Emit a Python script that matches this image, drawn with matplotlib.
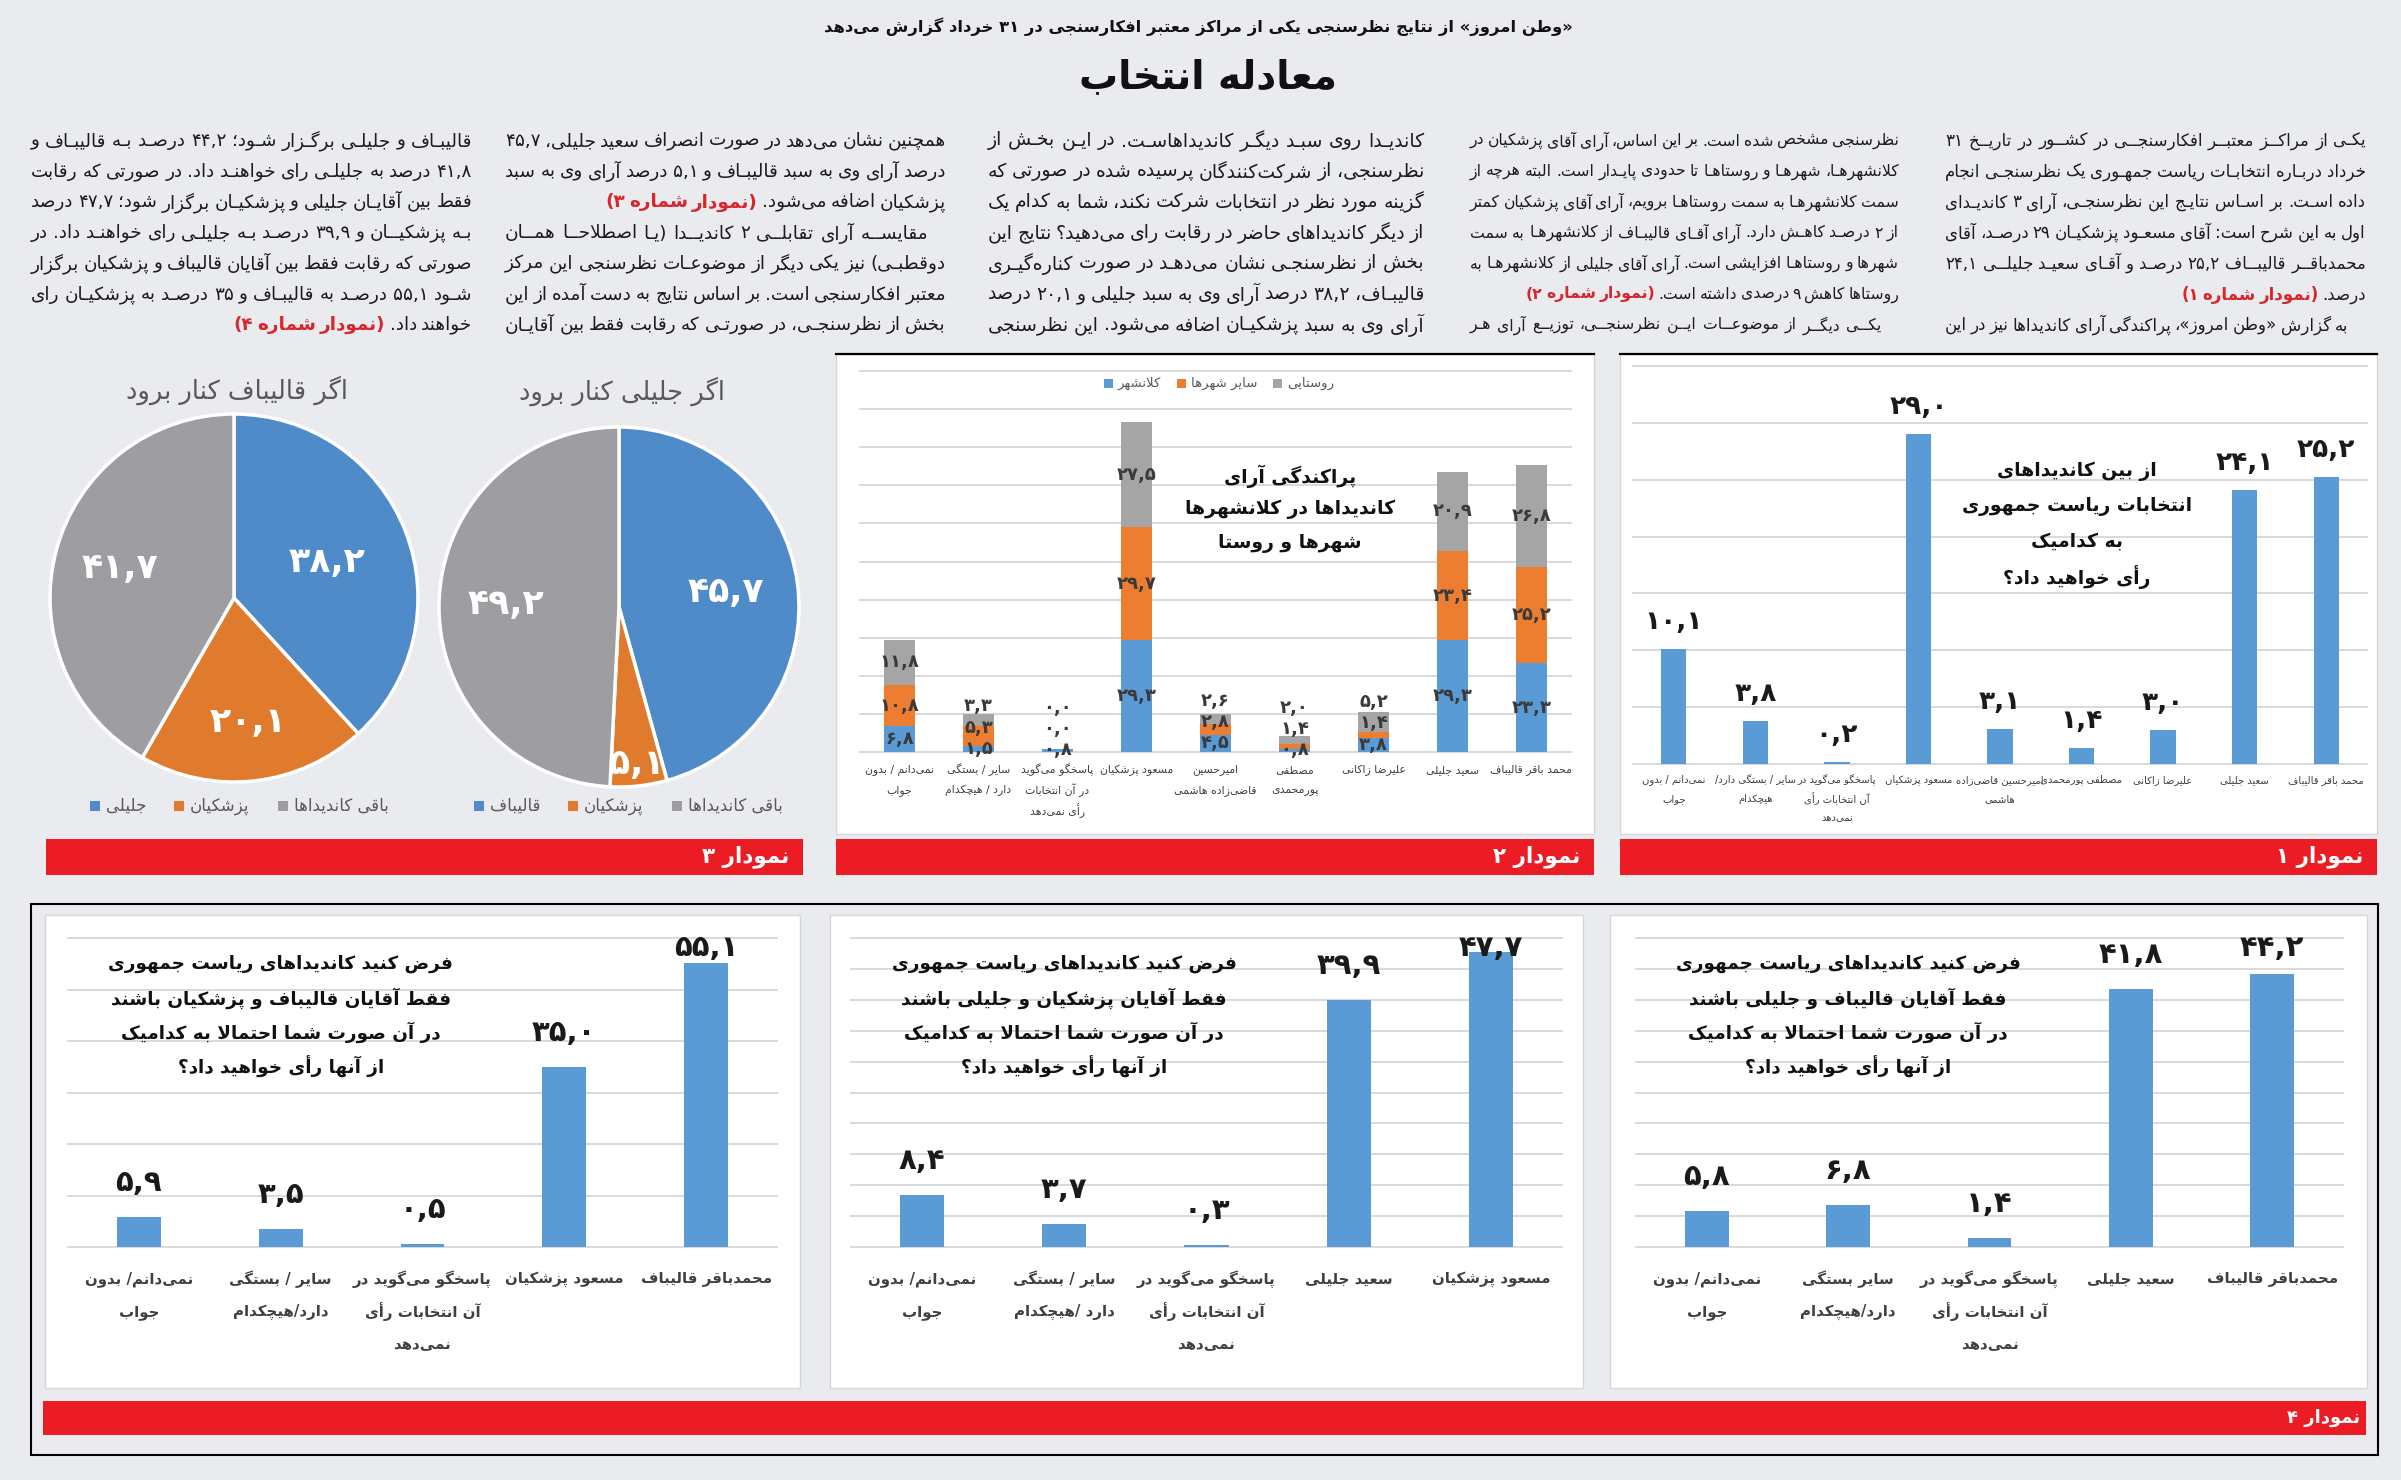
import matplotlib
matplotlib.use('Agg')
import matplotlib.pyplot as plt
import matplotlib.transforms as mtransforms
from matplotlib.patches import Rectangle
import numpy as np

plt.rcParams['font.family'] = ['DejaVu Sans']

# ---------------- data ----------------
subtitle = '«وطن امروز» از نتایج نظرسنجی یکی از مراکز معتبر افکارسنجی در ۳۱ خرداد گزارش می‌دهد'
title = 'معادله انتخاب'

col1 = [
    'یکی از مراکز معتبر افکارسنجی در کشور در تاریخ ۳۱',
    'خرداد درباره انتخابات ریاست جمهوری یک نظرسنجی انجام',
    'داده است. بر اساس نتایج این نظرسنجی، آرای ۳ کاندیدای',
    'اول به این شرح است: آقای مسعود پزشکیان ۲۹ درصد، آقای',
    'محمدباقر قالیباف ۲۵,۲ درصد و آقای سعید جلیلی ۲۴,۱',
    'درصد. (نمودار شماره ۱)',
    'به گزارش «وطن امروز»، پراکندگی آرای کاندیداها نیز در این',
]
col2 = [
    'نظرسنجی مشخص شده است. بر این اساس، آرای آقای پزشکیان در',
    'کلانشهرها، شهرها و روستاها تا حدودی پایدار است. البته هرچه از',
    'سمت کلانشهرها به سمت روستاها برویم، آرای آقای پزشکیان کمتر',
    'از ۲ درصد کاهش دارد. آرای آقای قالیباف از کلانشهرها به سمت',
    'شهرها و روستاها افزایشی است. آرای آقای جلیلی از کلانشهرها به',
    'روستاها کاهش ۹ درصدی داشته است. (نمودار شماره ۲)',
    'یکی دیگر از موضوعات این نظرسنجی، توزیع آرای هر',
]
col3 = [
    'کاندیدا روی سبد دیگر کاندیداهاست. در این بخش از',
    'نظرسنجی، از شرکت‌کنندگان پرسیده شده در صورتی که',
    'گزینه مورد نظر در انتخابات شرکت نکند، شما به کدام یک',
    'از دیگر کاندیداهای حاضر در رقابت رای می‌دهید؟ نتایج این',
    'بخش از نظرسنجی نشان می‌دهد در صورت کناره‌گیری',
    'قالیباف، ۳۸,۲ درصد آرای وی به سبد جلیلی و ۲۰,۱ درصد',
    'آرای وی به سبد پزشکیان اضافه می‌شود. این نظرسنجی',
]
col4 = [
    'همچنین نشان می‌دهد در صورت انصراف سعید جلیلی، ۴۵,۷',
    'درصد آرای وی به سبد قالیباف و ۵,۱ درصد آرای وی به سبد',
    'پزشکیان اضافه می‌شود. (نمودار شماره ۳)',
    'مقایسه آرای تقابلی ۲ کاندیدا (یا اصطلاحا همان',
    'دوقطبی) نیز یکی دیگر از موضوعات نظرسنجی این مرکز',
    'معتبر افکارسنجی است. بر اساس نتایج به دست آمده از این',
    'بخش از نظرسنجی، در صورتی که رقابت فقط بین آقایان',
]
col5 = [
    'قالیباف و جلیلی برگزار شود؛ ۴۴,۲ درصد به قالیباف و',
    '۴۱,۸ درصد به جلیلی رای خواهند داد. در صورتی که رقابت',
    'فقط بین آقایان جلیلی و پزشکیان برگزار شود؛ ۴۷,۷ درصد',
    'به پزشکیان و ۳۹,۹ درصد به جلیلی رای خواهند داد. در',
    'صورتی که رقابت فقط بین آقایان قالیباف و پزشکیان برگزار',
    'شود ۵۵,۱ درصد به قالیباف و ۳۵ درصد به پزشکیان رای',
    'خواهند داد. (نمودار شماره ۴)',
]

# chart 1
c1_title = 'از بین کاندیداهای\nانتخابات ریاست جمهوری\nبه کدامیک\nرأی خواهید داد؟'
c1_labels = ['نمی‌دانم / بدون\nجواب', 'سایر / بستگی دارد/\nهیچکدام',
             'پاسخگو می‌گوید در\nآن انتخابات رأی\nنمی‌دهد', 'مسعود پزشکیان',
             'امیرحسین قاضی‌زاده\nهاشمی', 'مصطفی پورمحمدی', 'علیرضا زاکانی',
             'سعید جلیلی', 'محمد باقر قالیباف']
c1_values = [10.1, 3.8, 0.2, 29.0, 3.1, 1.4, 3.0, 24.1, 25.2]

# chart 2
c2_title = 'پراکندگی آرای\nکاندیداها در کلانشهرها\nشهرها و روستا'
c2_labels = ['نمی‌دانم / بدون\nجواب', 'سایر / بستگی\nدارد / هیچکدام',
             'پاسخگو می‌گوید\nدر آن انتخابات\nرأی نمی‌دهد', 'مسعود پزشکیان',
             'امیرحسین\nقاضی‌زاده هاشمی', 'مصطفی\nپورمحمدی', 'علیرضا زاکانی',
             'سعید جلیلی', 'محمد باقر قالیباف']
c2_series = ['کلانشهر', 'سایر شهرها', 'روستایی']
c2_metro = [6.8, 1.5, 0.8, 29.3, 4.5, 0.8, 3.8, 29.3, 23.3]
c2_city = [10.8, 5.3, 0.0, 29.7, 2.8, 1.4, 1.4, 23.4, 25.2]
c2_rural = [11.8, 3.3, 0.0, 27.5, 2.6, 2.0, 5.2, 20.9, 26.8]

# chart 3
pie1_title = 'اگر قالیباف کنار برود'
pie1_labels = ['جلیلی', 'پزشکیان', 'باقی کاندیداها']
pie1_values = [38.2, 20.1, 41.7]
pie2_title = 'اگر جلیلی کنار برود'
pie2_labels = ['قالیباف', 'پزشکیان', 'باقی کاندیداها']
pie2_values = [45.7, 5.1, 49.2]

# chart 4
c4_q = 'فرض کنید کاندیداهای ریاست جمهوری\nفقط آقایان {} باشند\nدر آن صورت شما احتمالا به کدامیک\nاز آنها رأی خواهید داد؟'
c4a_pair = 'قالیباف و پزشکیان'
c4a_labels = ['نمی‌دانم/ بدون\nجواب', 'سایر / بستگی\nدارد/هیچکدام',
              'پاسخگو می‌گوید در\nآن انتخابات رأی\nنمی‌دهد', 'مسعود پزشکیان', 'محمدباقر قالیباف']
c4a_values = [5.9, 3.5, 0.5, 35.0, 55.1]
c4b_pair = 'پزشکیان و جلیلی'
c4b_labels = ['نمی‌دانم/ بدون\nجواب', 'سایر / بستگی\nدارد /هیچکدام',
              'پاسخگو می‌گوید در\nآن انتخابات رأی\nنمی‌دهد', 'سعید جلیلی', 'مسعود پزشکیان']
c4b_values = [8.4, 3.7, 0.3, 39.9, 47.7]
c4c_pair = 'قالیباف و جلیلی'
c4c_labels = ['نمی‌دانم/ بدون\nجواب', 'سایر بستگی\nدارد/هیچکدام',
              'پاسخگو می‌گوید در\nآن انتخابات رأی\nنمی‌دهد', 'سعید جلیلی', 'محمدباقر قالیباف']
c4c_values = [5.8, 6.8, 1.4, 41.8, 44.2]

# ---------------- persian shaping (no shaping/bidi in matplotlib) ----------------
FOUR = {0x0626: 0xFE89, 0x0628: 0xFE8F, 0x062A: 0xFE95, 0x062B: 0xFE99, 0x062C: 0xFE9D,
        0x062D: 0xFEA1, 0x062E: 0xFEA5, 0x0633: 0xFEB1, 0x0634: 0xFEB5, 0x0635: 0xFEB9,
        0x0636: 0xFEBD, 0x0637: 0xFEC1, 0x0638: 0xFEC5, 0x0639: 0xFEC9, 0x063A: 0xFECD,
        0x0641: 0xFED1, 0x0642: 0xFED5, 0x0643: 0xFED9, 0x0644: 0xFEDD, 0x0645: 0xFEE1,
        0x0646: 0xFEE5, 0x0647: 0xFEE9, 0x064A: 0xFEF1, 0x067E: 0xFB56, 0x0686: 0xFB7A,
        0x06A9: 0xFB8E, 0x06AF: 0xFB92, 0x06CC: 0xFBFC}
TWO = {0x0622: 0xFE81, 0x0623: 0xFE83, 0x0624: 0xFE85, 0x0625: 0xFE87, 0x0627: 0xFE8D,
       0x0629: 0xFE93, 0x062F: 0xFEA9, 0x0630: 0xFEAB, 0x0631: 0xFEAD, 0x0632: 0xFEAF,
       0x0648: 0xFEED, 0x0649: 0xFEEF, 0x0698: 0xFB8A}
LAM_ALEF = {0x0622: 0xFEF5, 0x0623: 0xFEF7, 0x0625: 0xFEF9, 0x0627: 0xFEFB}
KASH = 0x0640  # tatweel, joins on both sides
MIRROR = str.maketrans('()«»[]', ')(»«][')
DIGITS = set('0123456789۰۱۲۳۴۵۶۷۸۹')
FA_NUM = str.maketrans('0123456789.', '۰۱۲۳۴۵۶۷۸۹,')


def shape(s):
    out = []
    n = len(s)
    i = 0
    while i < n:
        c = ord(s[i])
        p = i > 0 and (ord(s[i - 1]) in FOUR or ord(s[i - 1]) == KASH)
        if c == 0x0644 and i + 1 < n and ord(s[i + 1]) in LAM_ALEF:
            out.append(chr(LAM_ALEF[ord(s[i + 1])] + (1 if p else 0)))
            i += 2
            continue
        if c in FOUR:
            nc = ord(s[i + 1]) if i + 1 < n else 0
            nx = nc in FOUR or nc in TWO or nc == KASH
            out.append(chr(FOUR[c] + (3 if p and nx else 1 if p else 2 if nx else 0)))
        elif c in TWO:
            out.append(chr(TWO[c] + (1 if p else 0)))
        elif c != 0x200C:
            out.append(s[i])
        i += 1
    return ''.join(out)


def visual(line):
    s = shape(line)
    runs = []
    i = 0
    while i < len(s):
        j = i
        if s[i] in DIGITS:
            while j < len(s) and (s[j] in DIGITS or (s[j] in '٫.,' and j + 1 < len(s) and s[j + 1] in DIGITS)):
                j += 1
            runs.append(s[i:j])
        else:
            while j < len(s) and s[j] not in DIGITS:
                j += 1
            runs.append(s[i:j][::-1].translate(MIRROR))
        i = j
    return ''.join(reversed(runs))


def fa(s):
    return '\n'.join(visual(l) for l in s.split('\n'))


def num(v):
    return f'{v:.1f}'.translate(FA_NUM)


def kashida_spot(word):
    spots = [i for i in range(len(word) - 1)
             if ord(word[i]) in FOUR and (ord(word[i + 1]) in FOUR or ord(word[i + 1]) in TWO)
             and not (word[i] == 'ل' and ord(word[i + 1]) in LAM_ALEF)]
    return spots[-1] if spots else None


# ---------------- figure ----------------
W, H = 2401, 1480
BG = '#E9EBEE'
RED = '#EC1C24'
BLUE, ORANGE, GRAY = '#5B9BD5', '#ED7D31', '#A5A5A5'
GRID = '#D9D9D9'

fig = plt.figure(figsize=(W / 100, H / 100), dpi=100)
fig.patch.set_facecolor(BG)
bg = fig.add_axes([0, 0, 1, 1], zorder=0)
bg.set_xlim(0, W)
bg.set_ylim(H, 0)
bg.axis('off')
R = fig.canvas.get_renderer()


def T(x, y, s, **kw):
    kw.setdefault('ha', 'center')
    kw.setdefault('va', 'center')
    return fig.text(x / W, 1 - y / H, fa(s), **kw)


def lines_text(x, y0, s, pitch, trans=None, **kw):
    for k, line in enumerate(s.split('\n')):
        y = 1 - (y0 + k * pitch) / H
        if trans is None:
            fig.text(x / W, y, fa(line), ha='center', va='center', **kw)
        else:
            fig.text(x, y, fa(line), transform=trans, ha='center', va='center', **kw)


def box(x0, y0, x1, y1, **kw):
    bg.add_patch(Rectangle((x0, y0), x1 - x0, y1 - y0, **kw))


def width(t):
    return t.get_window_extent(renderer=R).width


def axes_px(x0, y0, x1, y1):
    ax = fig.add_axes([x0 / W, 1 - y1 / H, (x1 - x0) / W, (y1 - y0) / H], zorder=1)
    ax.patch.set_alpha(0)
    return ax


# ---------------- header ----------------
T(1198, 27, subtitle, fontsize=11.8, fontweight='bold', color='#111111')
T(1208, 77, title, fontsize=28, fontweight='bold', color='#111111')

# ---------------- body text (justified with kashida, right to left) ----------------
columns = [(col1, 1945, 2366), (col2, 1470, 1899), (col3, 988, 1424), (col4, 505, 946), (col5, 31, 472)]
line_y = [141 + k * 30.7 for k in range(7)]
BODY = 14.5
SPACE = 0.22   # word gap in em


def make_words(words, y, size, red_from):
    arts = []
    for k, w in enumerate(words):
        red = k >= red_from
        arts.append(fig.text(0, 1 - y / H, fa(w), fontsize=size, ha='left', va='center',
                             color='#D7262D' if red else '#1b1b1b',
                             fontweight='bold' if red else 'normal'))
    return arts


def red_start(words):
    return next((k for k, w in enumerate(words) if w.startswith('(نمودار')), len(words))


for lines, xl, xr in columns:
    # one size per column: the largest that lets every line fit with normal spaces
    size = BODY
    prev_end = False
    for s in lines:
        words = s.split(' ')
        right = xr - (18 if prev_end else 0)
        arts = make_words(words, 0, BODY, red_start(words))
        tot = sum(width(a) for a in arts)
        gap0 = SPACE * BODY * 1.389
        size = min(size, BODY * (right - xl) / (tot + gap0 * (len(words) - 1)))
        for a in arts:
            a.remove()
        prev_end = '(نمودار' in s
    em = size * 1.389
    probe = fig.text(0, 0, '\u0640' * 10, fontsize=size)
    kw = width(probe) / 10
    probe.remove()

    prev_end = False
    for k, s in enumerate(lines):
        y = line_y[k]
        ends = '(نمودار' in s
        right = xr - (18 if prev_end else 0)
        words = s.split(' ')
        rs = red_start(words)
        n = len(words)
        if not ends and n > 1:
            arts = make_words(words, y, size, rs)
            slack = right - xl - sum(width(a) for a in arts) - SPACE * em * (n - 1)
            for a in arts:
                a.remove()
            nk = int(max(slack, 0) * 0.8 / kw)
            cand = sorted([j for j in range(n) if kashida_spot(words[j]) is not None],
                          key=lambda j: -len(words[j]))
            counts = [0] * n
            if cand:
                for m in range(nk):
                    counts[cand[m % len(cand)]] += 1
            for j in range(n):
                if counts[j]:
                    p = kashida_spot(words[j])
                    words[j] = words[j][:p + 1] + '\u0640' * counts[j] + words[j][p + 1:]
        arts = make_words(words, y, size, rs)
        ws = [width(a) for a in arts]
        if not ends and n > 1:
            gap = (right - xl - sum(ws)) / (n - 1)
        else:
            gap = SPACE * em
        x = right
        for a, w in zip(arts, ws):
            x -= w
            a.set_x(x / W)
            x -= gap
        prev_end = ends

# ---------------- panels ----------------
for x0, x1 in [(1620, 2377), (836, 1594)]:
    box(x0, 354, x1, 834, facecolor='white', edgecolor='#D4D6D9', lw=1)
    bg.plot([x0, x1], [354, 354], color='black', lw=1.6)
for x0, x1, lab in [(1620, 2377, 'نمودار ۱'), (836, 1594, 'نمودار ۲'), (46, 803, 'نمودار ۳')]:
    box(x0, 839, x1, 875, facecolor=RED, lw=0)
    T(x1 - 14, 857, lab, ha='right', fontsize=15.5, fontweight='bold', color='white')

box(31, 904, 2378, 1455, fill=False, edgecolor='black', lw=1.5)
for x0, x1 in [(45, 800), (830, 1583), (1610, 2367)]:
    box(x0, 915, x1, 1388, facecolor='white', edgecolor='#D4D6D9', lw=1)
box(43, 1401, 2366, 1435, facecolor=RED, lw=0)
T(2360, 1418, 'نمودار ۴', ha='right', fontsize=13, fontweight='bold', color='white')


def bar_axes(x0, y0, x1, y1, n, ymax, step):
    ax = axes_px(x0, y0, x1, y1)
    ax.set_xlim(-0.5, n - 0.5)
    ax.set_ylim(0, ymax)
    ax.set_xticks([])
    ax.set_yticks([])
    for sp in ax.spines.values():
        sp.set_visible(False)
    for g in np.arange(0, ymax + 0.01, step):
        ax.axhline(g, color=GRID, lw=1.4, zorder=0, clip_on=False)
    return ax


def tick_text(ax, labels, y0, pitch, **kw):
    tr = mtransforms.blended_transform_factory(ax.transData, fig.transFigure)
    for i, lab in enumerate(labels):
        lines_text(i, y0, lab, pitch, trans=tr, **kw)


def value_labels(ax, vals, ymax, px_h, off, size):
    ppu = px_h / ymax
    for i, v in enumerate(vals):
        y = min(v + off / ppu, ymax - 10 / ppu)
        ax.text(i, y, fa(num(v)), ha='center', va='center', fontsize=size,
                fontweight='bold', color='#1a1a1a', zorder=3)


# ---------------- chart 1 ----------------
ax1 = bar_axes(1633, 366, 2367, 764, len(c1_values), 35, 5)
ax1.bar(range(len(c1_values)), c1_values, width=0.31, color=BLUE, zorder=2)
value_labels(ax1, c1_values, 35, 764 - 366, 27, 19)
tick_text(ax1, c1_labels, 780, 19, fontsize=7.2, color='#3f3f3f')
lines_text(2077, 471, c1_title, 35.3, fontsize=13.5, fontweight='bold', color='#111111')

# ---------------- chart 2 ----------------
ax2 = bar_axes(860, 371, 1571, 752, len(c2_metro), 100, 10)
x2 = np.arange(len(c2_metro))
metro = np.array(c2_metro)
city = np.array(c2_city)
rural = np.array(c2_rural)
ax2.bar(x2, metro, width=0.39, color=BLUE, zorder=2)
ax2.bar(x2, city, width=0.39, bottom=metro, color=ORANGE, zorder=2)
ax2.bar(x2, rural, width=0.39, bottom=metro + city, color=GRAY, zorder=2)
for i in range(len(x2)):
    prev = -99
    bottom = 0
    for v in (metro[i], city[i], rural[i]):
        y = max(bottom + v / 2, prev + 5.6)
        ax2.text(i, y, fa(num(v)), ha='center', va='center', fontsize=13,
                 fontweight='bold', color='#3a3a3a', zorder=3)
        prev = y
        bottom += v
tick_text(ax2, c2_labels, 770, 20.5, fontsize=7.8, color='#3f3f3f')
lines_text(1290, 476, c2_title, 33.5, fontsize=13.5, fontweight='bold', color='#111111')


def legend_row(cx, y, items, size, sq, pad, gap, color='#595959'):
    arts = [fig.text(0, 1 - y / H, fa(lab), fontsize=size, color=color, ha='left', va='center')
            for lab, c in items]
    ws = [width(a) for a in arts]
    total = sum(ws) + len(items) * (sq + pad) + gap * (len(items) - 1)
    x = cx - total / 2
    for (lab, c), a, w in zip(items, arts, ws):
        box(x, y - sq / 2, x + sq, y + sq / 2, facecolor=c, lw=0)
        x += sq + pad
        a.set_x(x / W)
        x += w + gap


legend_row(1219, 383, list(zip(c2_series, [BLUE, ORANGE, GRAY])), 9.5, 9, 5, 16)

# ---------------- chart 3 (pies) ----------------
PIE_COLS = ['#4F8BC9', '#E07A2C', '#9E9EA2']


def pie(cx, cy, r, vals, dists):
    ax = axes_px(cx - r, cy - r, cx + r, cy + r)
    wedges, _ = ax.pie(vals, colors=PIE_COLS, startangle=90, counterclock=False,
                       wedgeprops={'edgecolor': 'white', 'linewidth': 2.5})
    ax.set_xlim(-1, 1)
    ax.set_ylim(-1, 1)
    for w, v, d in zip(wedges, vals, dists):
        a = np.deg2rad((w.theta1 + w.theta2) / 2)
        ax.text(d * np.cos(a), d * np.sin(a), fa(num(v)), ha='center', va='center',
                fontsize=25, fontweight='bold', color='white')


pie(234, 598, 184, pie1_values, [0.54, 0.68, 0.64])
pie(619, 607, 180, pie2_values, [0.6, 0.88, 0.63])
T(237, 390, pie1_title, fontsize=18.5, color='#595959')
T(622, 391, pie2_title, fontsize=18.5, color='#595959')
legend_row(239, 806, list(zip(pie1_labels, PIE_COLS)), 12, 10, 6, 28)
legend_row(628, 806, list(zip(pie2_labels, PIE_COLS)), 12, 10, 6, 28)

# ---------------- chart 4 ----------------
for (x0, x1), ymax, step, vals, labs, pair in [
        ((68, 777), 60, 10, c4a_values, c4a_labels, c4a_pair),
        ((851, 1562), 50, 5, c4b_values, c4b_labels, c4b_pair),
        ((1636, 2343), 50, 5, c4c_values, c4c_labels, c4c_pair)]:
    ax = bar_axes(x0, 938, x1, 1247, len(vals), ymax, step)
    ax.bar(range(len(vals)), vals, width=0.31, color=BLUE, zorder=2)
    value_labels(ax, vals, ymax, 1247 - 938, 34, 21)
    tick_text(ax, labs, 1279, 33, fontsize=10.8, fontweight='bold', color='#404040')
    cx = x0 + (x1 - x0) * 0.3
    lines_text(cx, 964, c4_q.format(pair), 34.3, fontsize=13.2, fontweight='bold', color='#111111')

fig.savefig('out.png', dpi=100, facecolor=BG)
